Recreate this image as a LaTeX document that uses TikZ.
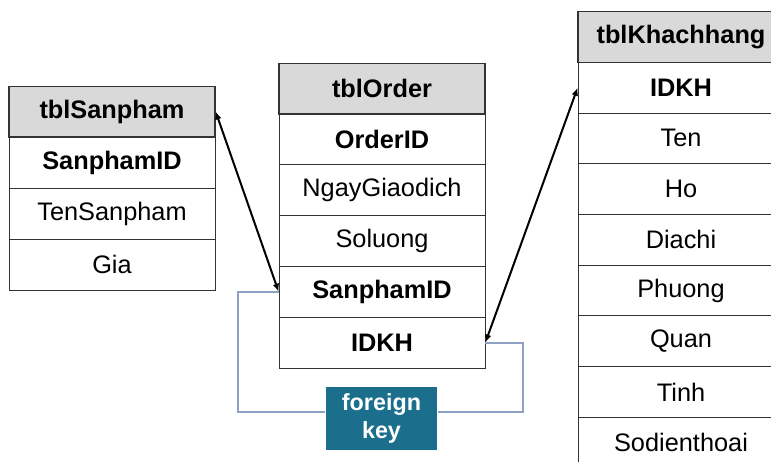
\documentclass[tikz,border=0pt]{standalone}
\usepackage{fontspec}
\setmainfont{Liberation Sans}
\usepackage{tikz}
\usetikzlibrary{arrows.meta}
\definecolor{fkblue}{HTML}{1B6E8C}
\definecolor{fkline}{HTML}{8EA0C3}
\tikzset{
  cell/.style={draw=black!80, line width=0.6pt, fill=white, minimum width=154.5pt,
    minimum height=38.1pt, inner sep=0pt, font=\fontsize{19}{22}\selectfont},
  keycell/.style={cell, font=\fontsize{19}{22}\selectfont\bfseries},
  head/.style={cell, fill=black!15, line width=0.9pt, font=\fontsize{19}{22}\selectfont\bfseries},
  fkbox/.style={fill=fkblue, text=white, minimum width=83.25pt, minimum height=47.25pt,
    inner sep=0pt, align=center, font=\fontsize{17.5}{21}\selectfont\bfseries},
}

\begin{document}
\begin{tikzpicture}[x=0.75pt, y=-0.75pt, line width=1.5pt, >={Latex[length=6pt, width=5pt]}]
        \clip (0,0) rectangle (771,461);
        \fill[white] (0,0) rectangle (771,461);

        % tblSanpham
        \node[head]    (SP)     at (112, 111.5) {tblSanpham};
        \node[keycell] (SPid)   at (112, 162.5) {SanphamID};
        \node[cell]    (SPten)  at (112, 213.5) {TenSanpham};
        \node[cell]    (SPgia)  at (112, 264.5) {Gia};

        % tblOrder
        \node[head]    (OR)     at (382,  88.5) {tblOrder};
        \node[keycell] (ORid)   at (382, 139.3) {OrderID};
        \node[cell]    (ORngay) at (382, 190.1) {NgayGiaodich};
        \node[cell]    (ORsl)   at (382, 240.9) {Soluong};
        \node[keycell] (ORsp)   at (382, 291.7) {SanphamID};
        \node[keycell] (ORkh)   at (382, 342.5) {IDKH};

        % tblKhachhang
        \node[head]    (KH)     at (681,  37.0) {tblKhachhang};
        \node[keycell] (KHid)   at (681,  87.7) {IDKH};
        \node[cell]    (KHten)  at (681, 138.4) {Ten};
        \node[cell]    (KHho)   at (681, 189.1) {Ho};
        \node[cell]    (KHdc)   at (681, 239.8) {Diachi};
        \node[cell]    (KHph)   at (681, 290.5) {Phuong};
        \node[cell]    (KHqu)   at (681, 341.2) {Quan};
        \node[cell]    (KHti)   at (681, 391.9) {Tinh};
        \node[cell]    (KHsdt)  at (681, 442.6) {Sodienthoai};

        % foreign key
        \node[fkbox] (FK) at (381.5, 418.5) {foreign\\key};
        \coordinate (FKl) at (238, 412);
        \coordinate (FKr) at (523, 412);

        \draw[fkline, line width=1.5pt] (ORsp.west) -| (FKl) -- (FKl -| FK.west);
        \draw[fkline, line width=1.5pt] (ORkh.east) -| (FKr) -- (FKr -| FK.east);

        \draw[<->] (SP.east)   -- (ORsp.west);
        \draw[<->] (ORkh.east) -- (KHid.west);
      \end{tikzpicture}
\end{document}
